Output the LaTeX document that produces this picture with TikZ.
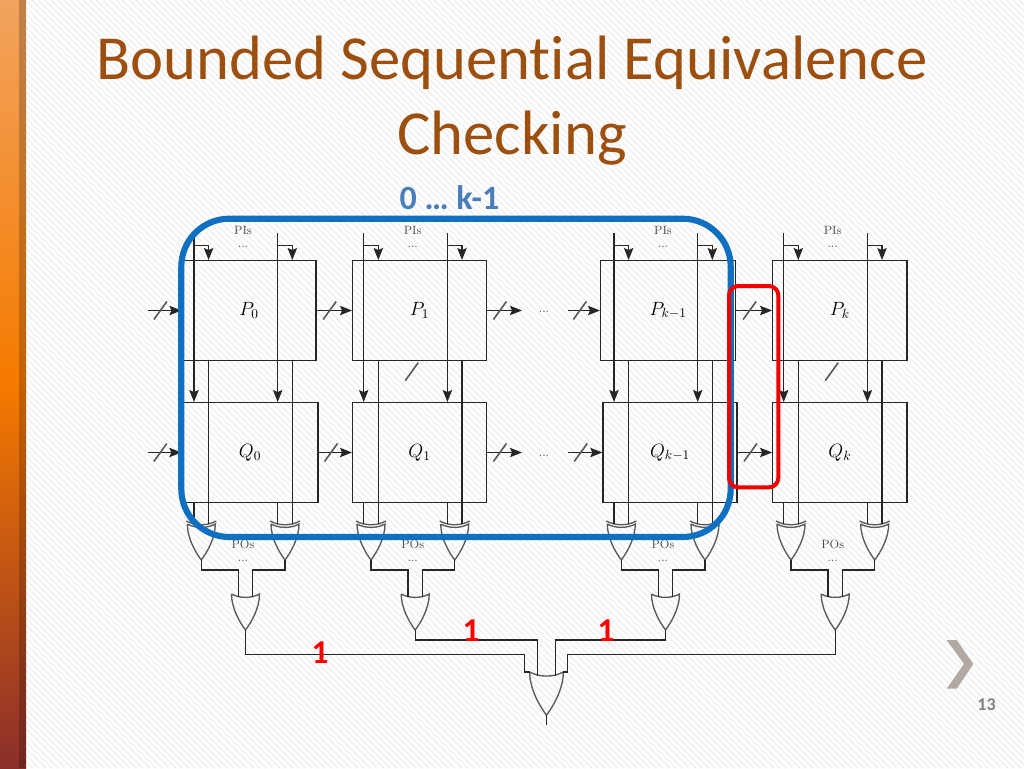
\documentclass[tikz,border=0pt]{standalone}
\usepackage{fontspec}
\usepackage{amsmath, amssymb}
\usetikzlibrary{arrows.meta}
\newfontfamily\slidefont[Ligatures=NoCommon]{Carlito}
\definecolor{titlebrown}{HTML}{9C4F0E}
\definecolor{loopblue}{HTML}{0F6FC0}
\definecolor{rangeblue}{HTML}{4A7EBB}
\definecolor{chevgrey}{HTML}{B2A9A2}
\definecolor{sidetop}{HTML}{F2A35E}
\definecolor{sidemid}{HTML}{F57A00}
\definecolor{sidebot}{HTML}{8B2E2A}
\tikzstyle{blockbox} = [rectangle, draw=black!85, line width=1pt, inner sep=0pt, minimum height=74.7pt, font=\fontsize{14}{16}\selectfont, text=black]
\tikzstyle{wire} = [draw=black!85, line width=1pt]
\tikzstyle{sigarrow} = [wire,->,>={Stealth[length=9pt,width=7pt,inset=1.5pt]}]
\tikzstyle{gateline} = [draw=black!65, line width=1pt]
\tikzstyle{smalltext} = [text=black!70, inner sep=0pt, font=\fontsize{9}{10}\selectfont]
\tikzstyle{redone} = [text=red, inner sep=0pt, font=\slidefont\bfseries\fontsize{25}{30}\selectfont]
\tikzset{
  orgate/.pic={
    \draw [gateline] (-14,0) .. controls (-6,4.5) and (6,4.5) .. (14,0) .. controls (14,14) and (6,28) .. (0,36) .. controls (-6,28) and (-14,14) .. (-14,0);
    \coordinate (in1) at (-7.3,3);
    \coordinate (in2) at (7.3,3);
    \coordinate (cl) at (-14,0);
    \coordinate (out) at (0,36);
  },
  xorgate/.pic={
    \draw [gateline] (-14,0) .. controls (-6,4.5) and (6,4.5) .. (14,0) .. controls (14,14) and (6,28) .. (0,36) .. controls (-6,28) and (-14,14) .. (-14,0);
    \draw [gateline] (-15,-3) .. controls (-6,2) and (6,2) .. (15,-3);
    \coordinate (in1) at (-7.3,0);
    \coordinate (in2) at (7.3,0);
    \coordinate (out) at (0,36);
  },
  slash/.pic={
    \draw [-, draw=black!65, line width=1.2pt] (-6.5,9) -- (6.5,-9);
  }
}
\begin{document}
\begin{tikzpicture}[x=.75pt,y=-.75pt]
\useasboundingbox (0,0) rectangle (1024,768);
\fill [white] (0,0) rectangle (1024,768);
\foreach \h in {-768,-761.5,...,1024}
  \draw [black!5, line width=1.3pt] (\h,0) -- (\h+768,768);

\shade [top color=sidetop, bottom color=sidebot, middle color=sidemid] (0,0) rectangle (26,768);
\fill [black, opacity=.2] (19,0) rectangle (26,768);

\node (title) [text=titlebrown, align=center, inner sep=0pt, font=\slidefont\fontsize{47}{56.3}\selectfont] at (512,101) {Bounded Sequential Equivalence\\Checking};
\node (range) [text=rangeblue, inner sep=0pt, font=\slidefont\bfseries\fontsize{25.5}{30}\selectfont] at (449.5,198) {0 … k-1};

\node (P0) [blockbox, minimum width=100.3pt] at (249,310.5) {$P_0$};
\node (Q0) [blockbox, minimum width=102pt] at (250,452.5) {$Q_0$};
\node (P1) [blockbox, minimum width=100.2pt] at (419.5,310.5) {$P_1$};
\node (Q1) [blockbox, minimum width=100.2pt] at (419.5,452.5) {$Q_1$};
\node (PL) [blockbox, minimum width=101.3pt] at (668.2,310.5) {$P_{k-1}$};
\node (QL) [blockbox, minimum width=100.5pt] at (670,452.5) {$Q_{k-1}$};
\node (PK) [blockbox, minimum width=100.7pt] at (839.9,310.5) {$P_k$};
\node (QK) [blockbox, minimum width=100.7pt] at (839.9,452.5) {$Q_k$};

\foreach \col/\x in {0/194,1/363.7,L/614,K/783.7} {
  \pic (XL\col-) at (\x+7.3,524) {xorgate};
  \pic (XR\col-) at (\x+91,524) {xorgate};
  \pic (OR\col-) at (\x+51.5,594) {orgate};
  \node (PI\col) [smalltext] at (\x+49,230) {PIs};
  \node (PD\col) [smalltext] at (\x+49,247) {...};
  \node (PO\col) [smalltext] at (\x+49,544) {POs};
  \node (QD\col) [smalltext] at (\x+49,561) {...};
  \draw [sigarrow] (XL\col-in1 |- 0,233) -- (XL\col-in1 |- Q\col.north);
  \draw [sigarrow] (XR\col-in1 |- 0,233) -- (XR\col-in1 |- Q\col.north);
  \draw [sigarrow] (XL\col-in1 |- 0,245.7) -| (XL\col-in2 |- P\col.north);
  \draw [sigarrow] (XR\col-in1 |- 0,245.7) -| (XR\col-in2 |- P\col.north);
  \draw [wire] (XL\col-in1 |- Q\col.south) -- (XL\col-in1);
  \draw [wire] (XR\col-in1 |- Q\col.south) -- (XR\col-in1);
  \draw [wire] (XL\col-in2 |- P\col.south) -- (XL\col-in2);
  \draw [wire] (XR\col-in2 |- P\col.south) -- (XR\col-in2);
  \draw [wire] (XL\col-out) -- ++(0,10) -| (OR\col-in1);
  \draw [wire] (XR\col-out) -- ++(0,10) -| (OR\col-in2);
}

\coordinate (P0in) at (148,310.5);
\coordinate (Q0in) at (148,452.5);
\coordinate (P1out) at (522,310.5);
\coordinate (Q1out) at (522,452.5);
\coordinate (PLin) at (568,310.5);
\coordinate (QLin) at (568,452.5);
\draw [sigarrow] (P0in) -- pic [pos=.37] {slash} (P0.west);
\draw [sigarrow] (Q0in) -- pic [pos=.37] {slash} (Q0.west);
\draw [sigarrow] (P0.east) -- pic [pos=.37] {slash} (P1.west);
\draw [sigarrow] (Q0.east) -- pic [pos=.37] {slash} (Q1.west);
\draw [sigarrow] (P1.east) -- pic [pos=.37] {slash} (P1out);
\draw [sigarrow] (Q1.east) -- pic [pos=.37] {slash} (Q1out);
\draw [sigarrow] (PLin) -- pic [pos=.37] {slash} (PL.west);
\draw [sigarrow] (QLin) -- pic [pos=.37] {slash} (QL.west);
\draw [sigarrow] (PL.east) -- pic [pos=.37] {slash} (PK.west);
\draw [sigarrow] (QL.east) -- pic [pos=.37] {slash} (QK.west);
\pic at (411.7,371.7) {slash};
\pic at (831.7,371.7) {slash};
\node (dotsP) [smalltext] at (544,312) {...};
\node (dotsQ) [smalltext] at (544,456) {...};

\pic (Z-) [scale=1.2] at (546.5,672) {orgate};
\coordinate (ZL) at (524.3,672);
\coordinate (ZR) at (567.3,672);
\coordinate (Zend) at (546.5,725);
\draw [wire] (OR0-out) -- ++(0,24.4) -| (ZL) -- (Z-cl);
\draw [wire] (OR1-out) -- ++(0,10) -| (Z-in1);
\draw [wire] (ORL-out) -- ++(0,10) -| (Z-in2);
\draw [wire] (ORK-out) -- ++(0,24.4) -| (ZR) -- ++(-4,0);
\draw [wire] (Z-out) -- (Zend);

\draw [loopblue, line width=4.6pt, rounded corners=36pt] (181.3,218.7) rectangle (730.7,537);
\draw [red!95!black, line width=3pt, rounded corners=7pt] (729,286) rectangle (778.3,487.3);

\node (oneA) [redone] at (320,653) {1};
\node (oneB) [redone] at (471,631) {1};
\node (oneC) [redone] at (606,631) {1};

\fill [chevgrey] (946.7,640) -- (956.7,640) -- (973.3,664) -- (956.7,688.7) -- (946.7,688.7) -- (964,664) -- cycle;
\node (page) [text=black!50, inner sep=0pt, font=\slidefont\bfseries\fontsize{13.5}{16}\selectfont] at (986.5,705) {13};
\end{tikzpicture}
\end{document}
